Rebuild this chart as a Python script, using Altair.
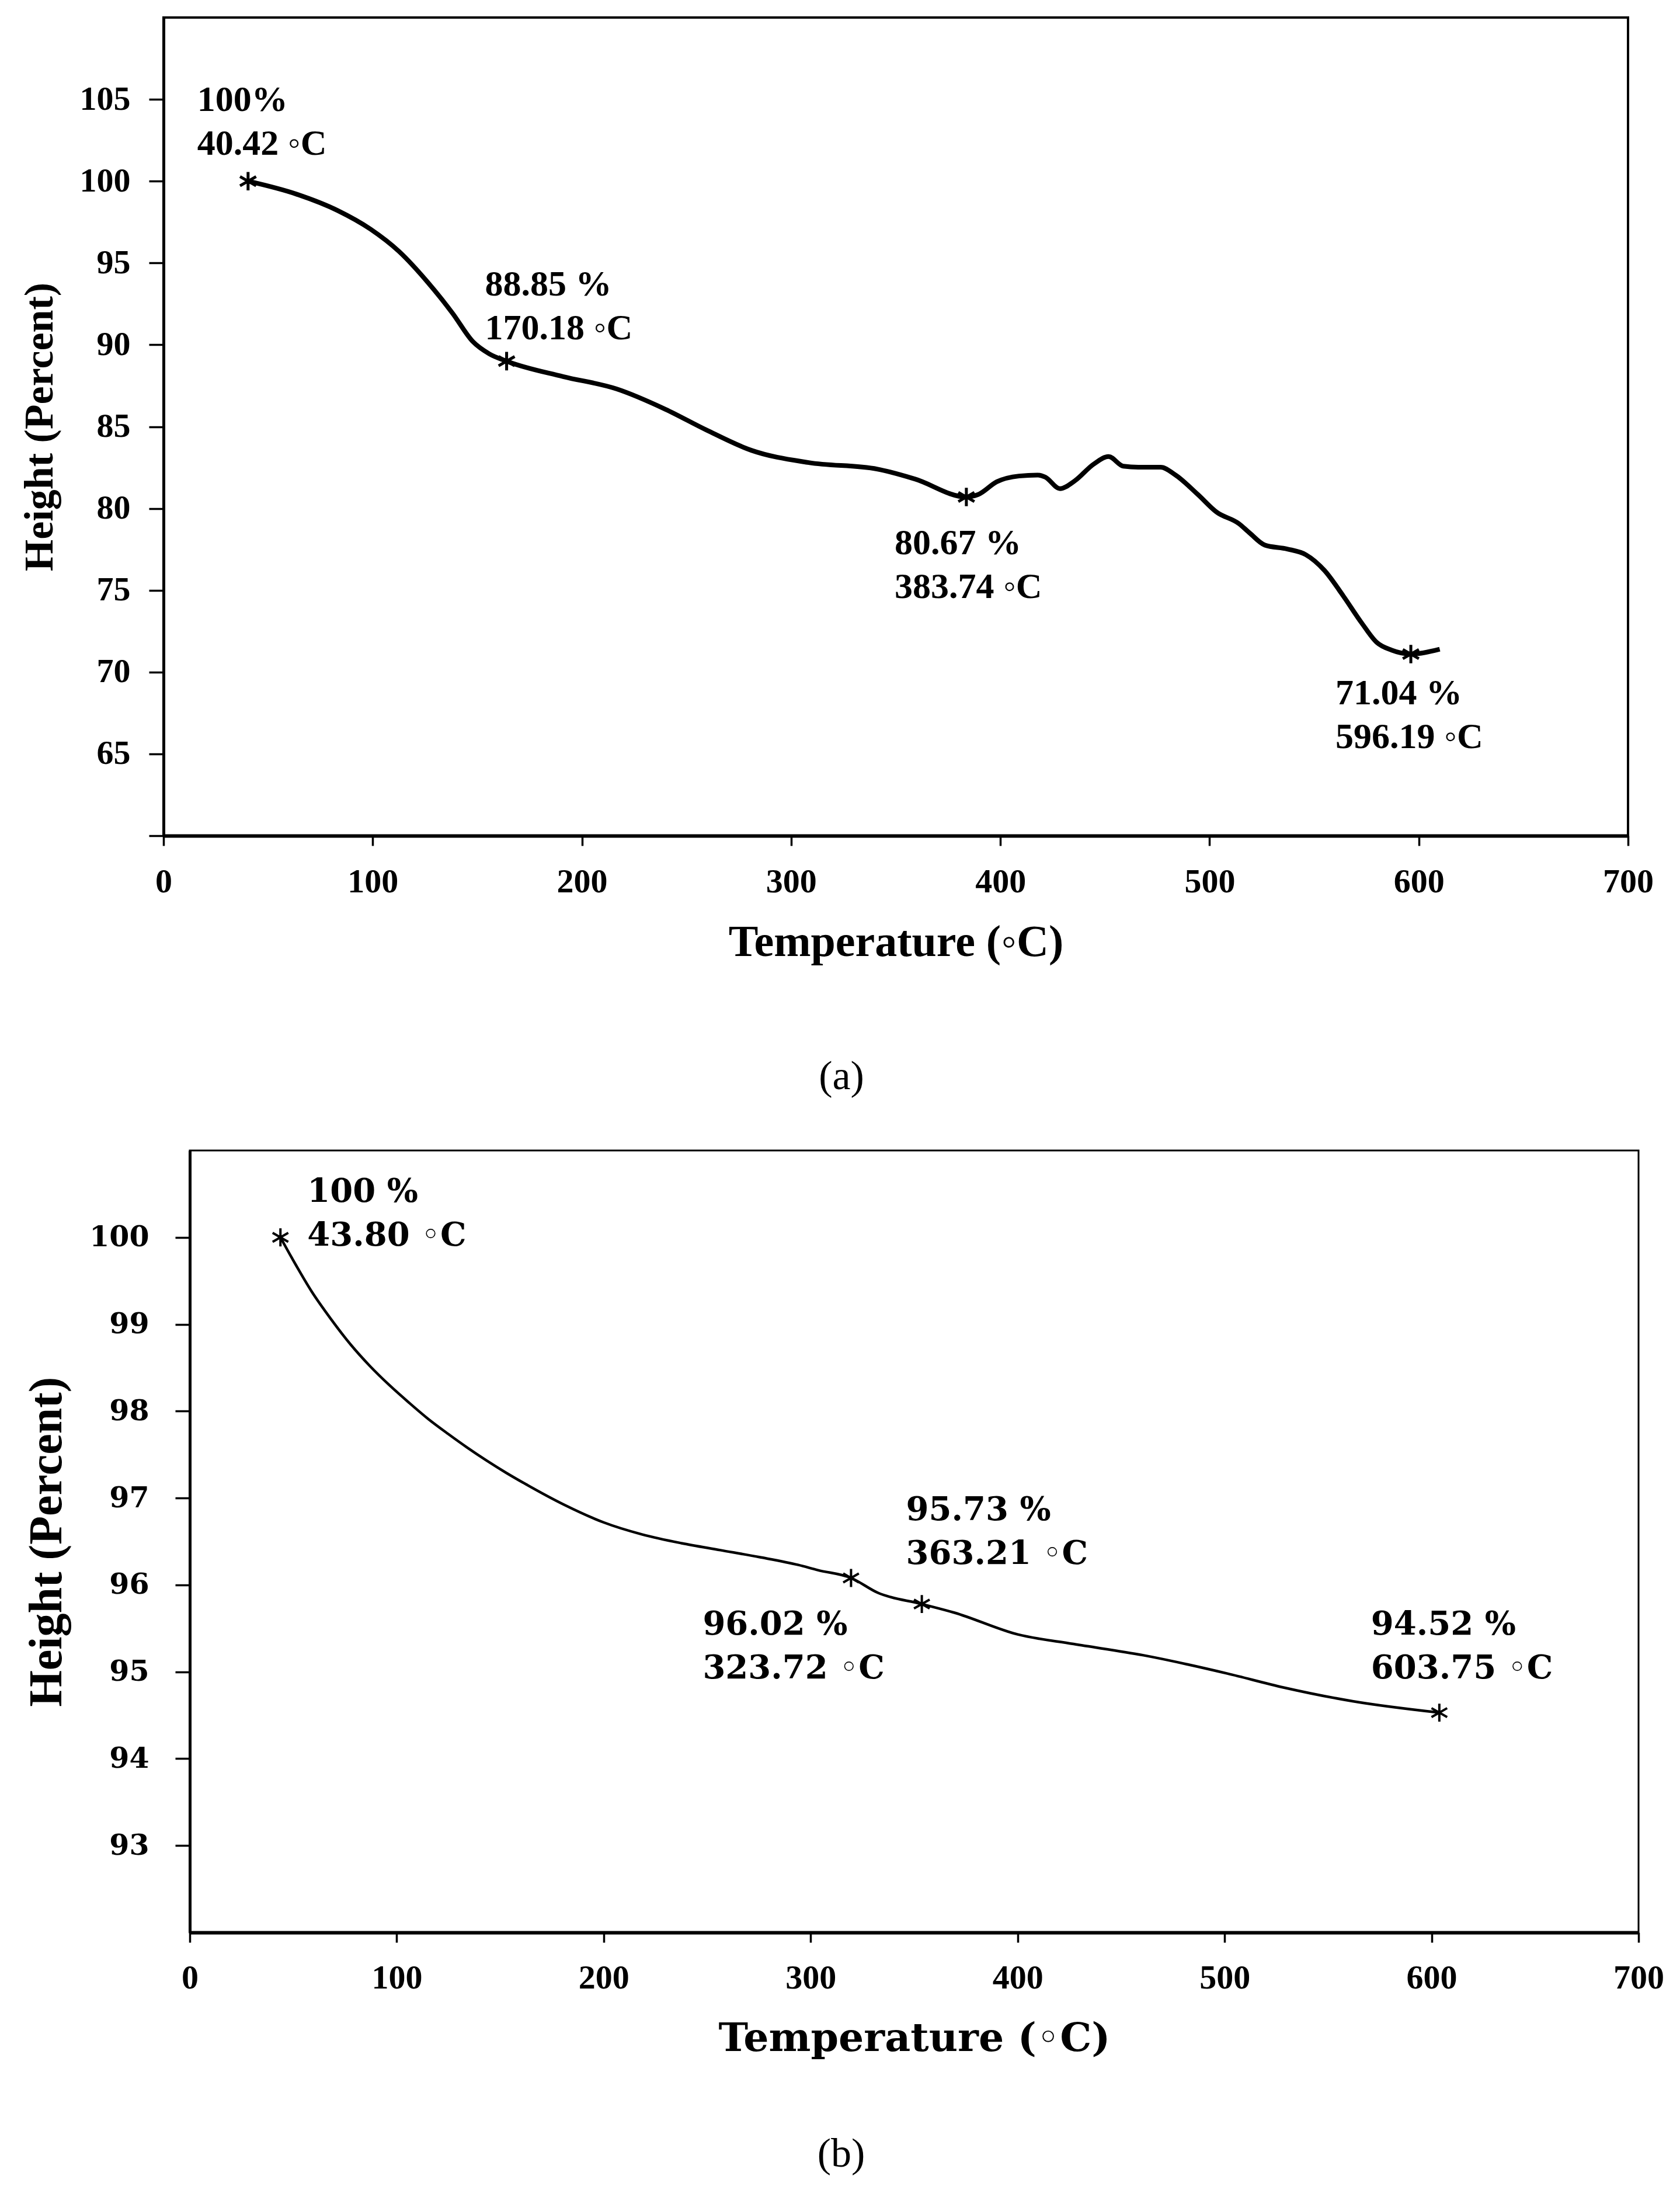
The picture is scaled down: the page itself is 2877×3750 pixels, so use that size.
import altair as alt
import pandas as pd

# ---- panel (a): values
temp_a = [40.42, 63.7, 83.3, 98.9, 112.6, 126.3, 138.1, 147.9, 155.8, 164.0,
          191.0, 216.4, 239.9, 259.4, 281.0, 308.4, 341.3, 359.1, 383.74, 389.4,
          398.3, 408.9, 417.8, 421.4, 428.5, 435.6, 444.5, 451.7, 458.8, 465.9,
          476.6, 483.7, 494.4, 503.3, 514.0, 519.3, 526.4, 537.1, 546.0, 554.9,
          563.8, 572.7, 579.9, 587.0, 596.19, 610.0]
height_a = [100.0, 99.2, 98.2, 97.07, 95.7, 93.82, 91.94, 90.19, 89.44, 89.0,
            88.06, 87.31, 86.06, 84.8, 83.55, 82.8, 82.4, 81.8, 80.7, 80.85,
            81.63, 81.98, 82.04, 81.92, 81.21, 81.69, 82.7, 83.17, 82.58, 82.52,
            82.52, 82.04, 80.85, 79.78, 79.07, 78.48, 77.76, 77.52, 77.17, 76.21,
            74.67, 73.0, 71.81, 71.34, 71.1, 71.4]
star_t_a = [40.42, 164.0, 383.74, 596.19]
star_h_a = [100.0, 89.0, 80.7, 71.1]
labels_a = ["100%\n40.42 ◦C", "88.85 %\n170.18 ◦C",
            "80.67 %\n383.74 ◦C", "71.04 %\n596.19 ◦C"]

# ---- panel (b)
temp_b = [43.8, 49.4, 58.8, 68.2, 77.6, 87.0, 96.4, 105.8, 115.2, 124.7,
          134.1, 143.5, 152.9, 162.3, 181.1, 199.9, 218.7, 237.6, 256.4, 275.2,
          294.0, 303.5, 319.5, 332.4, 353.7, 369.5, 400.0, 427.0, 460.8, 501.3,
          528.4, 562.2, 603.75]
height_b = [100.0, 99.76, 99.38, 99.06, 98.77, 98.52, 98.3, 98.1, 97.91, 97.74,
            97.58, 97.43, 97.29, 97.16, 96.92, 96.72, 96.58, 96.48, 96.4, 96.32,
            96.23, 96.17, 96.08, 95.91, 95.78, 95.68, 95.43, 95.32, 95.19, 94.98,
            94.82, 94.66, 94.53]
star_t_b = [43.8, 319.5, 353.7, 603.75]
star_h_b = [100.0, 96.08, 95.78, 94.53]
labels_b = ["100 %\n43.80 ◦C", "96.02 %\n323.72 ◦C",
            "95.73 %\n363.21 ◦C", "94.52 %\n603.75 ◦C"]

SERIF = "Liberation Serif"
WIDE = "DejaVu Serif"
STAR = "M0,-1L0,1M-0.87,-0.5L0.87,0.5M-0.87,0.5L0.87,-0.5"


def x_enc(label_pad, title_font, title_size, title_y):
    return alt.X("t:Q", scale=alt.Scale(domain=[0, 700], nice=False),
                 axis=alt.Axis(values=list(range(0, 701, 100)), title="Temperature (◦C)",
                               grid=False, domainColor="black", domainWidth=6,
                               tickColor="black", tickWidth=3.5, tickSize=17,
                               labelFont=SERIF, labelFontWeight="bold", labelFontSize=58,
                               labelColor="black", labelPadding=label_pad,
                               labelFlush=False, labelOverlap=False,
                               titleFont=title_font, titleFontWeight="bold",
                               titleFontSize=title_size, titleColor="black",
                               titleY=title_y, titleBaseline="top"))


def y_enc(dom, vals, hide, lab_font, lab_size, lab_pad, title_size, title_x):
    return alt.Y("h:Q", scale=alt.Scale(domain=dom, nice=False, zero=False),
                 axis=alt.Axis(values=vals, title="Height (Percent)", grid=False, format="d",
                               labelExpr=f"datum.value == {hide} ? '' : datum.label",
                               domainColor="black", domainWidth=5,
                               tickColor="black", tickWidth=3.5, tickSize=25,
                               labelFont=lab_font, labelFontWeight="bold",
                               labelFontSize=lab_size, labelColor="black",
                               labelPadding=lab_pad, labelOverlap=False, labelFlush=False,
                               titleFont=SERIF, titleFontWeight="bold",
                               titleFontSize=title_size, titleColor="black",
                               titleX=title_x, titleBaseline="bottom"))


def panel(temps, heights, st, sh, labels, offsets, font, size, lh, x, y,
          line_w, star_size, star_w):
    curve = pd.DataFrame({"t": temps, "h": heights})
    stars = pd.DataFrame({"t": st, "h": sh, "label": labels})
    line = alt.Chart(curve).mark_line(color="black", strokeWidth=line_w,
                                      interpolate="monotone").encode(x=x, y=y)
    pts = alt.Chart(stars).mark_point(shape=STAR, size=star_size, filled=False,
                                      color="black", strokeWidth=star_w,
                                      opacity=1).encode(x="t:Q", y="h:Q")
    layers = [line, pts]
    for i, (dx, dy) in enumerate(offsets):
        layers.append(
            alt.Chart(stars.iloc[[i]]).mark_text(
                font=font, fontWeight="bold", fontSize=size, color="black",
                align="left", baseline="alphabetic", lineBreak="\n", lineHeight=lh,
                dx=dx, dy=dy).encode(x="t:Q", y="h:Q", text="label:N"))
    return alt.layer(*layers)


def spacer(w):
    # empty cell that pushes the panel to the right
    return alt.Chart(pd.DataFrame({"v": [0]})).mark_point(opacity=0, size=1).encode(
        x=alt.value(60), y=alt.value(5)
    ).properties(width=w, height=10, view=alt.ViewBackground(strokeOpacity=0))


chart_a = panel(
    temp_a, height_a, star_t_a, star_h_a, labels_a,
    [(-87, -120), (-37, -112), (-123, 98), (-129, 86)], SERIF, 62, 75,
    x_enc(33, SERIF, 76, 145),
    y_enc([60, 110], list(range(60, 106, 5)), 60, SERIF, 58, 32, 70, -176),
    8, 1000, 5,
).properties(
    width=2508, height=1401,
    view=alt.ViewBackground(stroke="black", strokeWidth=4),
    title=alt.TitleParams("(a)", orient="bottom", anchor="middle", frame="group",
                          font=SERIF, fontSize=70, fontWeight="normal", color="black",
                          baseline="top", offset=159, dx=-93),
)

chart_b = panel(
    temp_b, height_b, star_t_b, star_h_b, labels_b,
    [(46, -61), (-254, 97), (-27, -144), (-117, -134)], WIDE, 56, 75,
    x_enc(32, WIDE, 68, 148),
    y_enc([92, 101], list(range(93, 101)), 92, WIDE, 49, 45, 80, -204),
    4.5, 950, 4,
).properties(
    width=2481, height=1339,
    view=alt.ViewBackground(stroke="black", strokeWidth=3),
    title=alt.TitleParams("(b)", orient="bottom", anchor="middle", frame="group",
                          font=SERIF, fontSize=70, fontWeight="normal", color="black",
                          baseline="top", offset=130, dx=-125),
)

row_a = alt.hconcat(spacer(246), chart_a, spacing=0, bounds="flush")
row_b = alt.hconcat(spacer(291), chart_b, spacing=0, bounds="flush")

chart = alt.vconcat(row_a, row_b, spacing=87).properties(
    padding={"top": 20, "left": 23, "right": 5, "bottom": 5},
    background="white",
)

chart.save("out.html", embed_options={"renderer": "svg", "actions": False})
